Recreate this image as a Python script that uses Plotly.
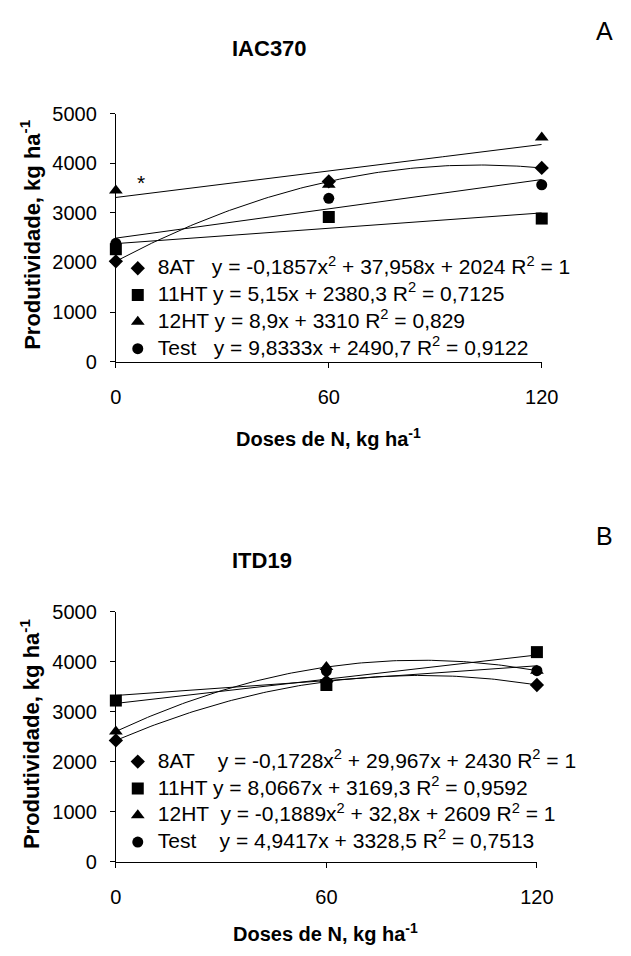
import numpy as np
import plotly.graph_objects as go

W, H = 631, 956

# Doses de N (kg/ha)
doses = [0, 60, 120]

# IAC370 yields (kg/ha)
iac_8at = [2024, 3633, 3905]
iac_11ht = [2267, 2916, 2885]
iac_12ht = [3450, 3564, 4518]
iac_test = [2385, 3292, 3565]

# ITD19 yields (kg/ha)
itd_8at = [2430, 3606, 3538]
itd_11ht = [3227, 3538, 4195]
itd_12ht = [2609, 3897, 3825]
itd_test = [3230, 3822, 3823]

# Fitted trendline coefficients [a, b, c] for y = a*x^2 + b*x + c
iac_fit = {
    "8AT": [-0.1857, 37.958, 2024],
    "11HT": [0.0, 5.15, 2380.3],
    "12HT": [0.0, 8.9, 3310],
    "Test": [0.0, 9.8333, 2490.7],
}
itd_fit = {
    "8AT": [-0.1728, 29.967, 2430],
    "11HT": [0.0, 8.0667, 3169.3],
    "12HT": [-0.1889, 32.8, 2609],
    "Test": [0.0, 4.9417, 3328.5],
}

iac_labels = [
    "8AT   y = -0,1857x<sup>2</sup> + 37,958x + 2024 R<sup>2</sup> = 1",
    "11HT y = 5,15x + 2380,3 R<sup>2</sup> = 0,7125",
    "12HT y = 8,9x + 3310 R<sup>2</sup> = 0,829",
    "Test   y = 9,8333x + 2490,7 R<sup>2</sup> = 0,9122",
]
itd_labels = [
    "8AT    y = -0,1728x<sup>2</sup> + 29,967x + 2430 R<sup>2</sup> = 1",
    "11HT y = 8,0667x + 3169,3 R<sup>2</sup> = 0,9592",
    "12HT  y = -0,1889x<sup>2</sup> + 32,8x + 2609 R<sup>2</sup> = 1",
    "Test    y = 4,9417x + 3328,5 R<sup>2</sup> = 0,7513",
]

series_names = ["8AT", "11HT", "12HT", "Test"]
symbols = ["diamond", "square", "triangle-up", "circle"]
sizes = [11, 12, 12, 11]

FONT = "Liberation Sans, Arial, sans-serif"
LEG_TEXT = 21  # glyph size of legend entries


def px(x):
    return x / W


def py(y):
    return 1 - y / H


fig = go.Figure()
xs = np.arange(0, 121, 1.0)


def add_panel(values, fits, labels, xa, ya, legend_id):
    for name in series_names:
        a, b, c = fits[name]
        fig.add_trace(go.Scatter(
            x=xs, y=a * xs ** 2 + b * xs + c, mode="lines",
            line=dict(color="black", width=1), showlegend=False,
            xaxis=xa, yaxis=ya, hoverinfo="skip", cliponaxis=False,
        ))
    for name, vals, sym, sz, lab in zip(series_names, values, symbols, sizes, labels):
        fig.add_trace(go.Scatter(
            x=doses, y=vals, mode="markers",
            name=f'<span style="font-size:{LEG_TEXT}px">{lab}</span>',
            marker=dict(symbol=sym, size=sz, color="black", line=dict(width=0)),
            xaxis=xa, yaxis=ya, legend=legend_id, legendgroup=legend_id + name,
            cliponaxis=False,
        ))


add_panel([iac_8at, iac_11ht, iac_12ht, iac_test], iac_fit, iac_labels, "x", "y", "legend")
add_panel([itd_8at, itd_11ht, itd_12ht, itd_test], itd_fit, itd_labels, "x2", "y2", "legend2")

xaxis_style = dict(
    range=[0, 120], tickvals=doses, ticks="outside", ticklen=5, tickcolor="black",
    showline=True, linecolor="black", linewidth=1, showgrid=False, zeroline=False,
    tickfont=dict(family=FONT, size=20, color="black"), ticklabelstandoff=12,
)
yaxis_style = dict(
    range=[0, 5000], tickvals=[0, 1000, 2000, 3000, 4000, 5000], ticks="outside",
    ticklen=5, tickcolor="black", showline=True, linecolor="black", linewidth=1,
    showgrid=False, zeroline=False,
    tickfont=dict(family=FONT, size=20, color="black"), ticklabelstandoff=9,
)

legend_style = dict(
    bgcolor="rgba(0,0,0,0)", borderwidth=0, xanchor="left", yanchor="top",
    font=dict(family=FONT, size=16, color="black"), traceorder="grouped",
    tracegroupgap=3, itemclick=False, itemdoubleclick=False,
)

fig.update_layout(
    width=W, height=H, margin=dict(l=0, r=0, t=0, b=0),
    paper_bgcolor="white", plot_bgcolor="white", showlegend=True,
    xaxis=dict(domain=[px(114), px(556)], anchor="y", **xaxis_style),
    yaxis=dict(domain=[py(359), py(105)], anchor="x", **yaxis_style),
    xaxis2=dict(domain=[px(114), px(551)], anchor="y2", **xaxis_style),
    yaxis2=dict(domain=[py(871), py(615)], anchor="x2", **yaxis_style),
    legend=dict(x=px(116), y=py(246), **legend_style),
    legend2=dict(x=px(116), y=py(751), **legend_style),
)

ann = []


def text(x, y, s, size, bold=False, angle=0):
    if bold:
        s = "<b>" + s + "</b>"
    ann.append(dict(x=px(x), y=py(y), xref="paper", yref="paper", text=s,
                    showarrow=False, textangle=angle, xanchor="center", yanchor="middle",
                    font=dict(family=FONT, size=size, color="black")))


# Panel A
text(273, 38, "IAC370", 22, True)
text(621, 20, "A", 25)
text(335, 437, "Doses de N, kg ha<sup>-1</sup>", 20, True)
text(25, 229, "Produtividade, kg ha<sup>-1</sup>", 22, True, -90)
# Panel B
text(266, 562, "ITD19", 22, True)
text(621, 537, "B", 25)
text(332, 943, "Doses de N, kg ha<sup>-1</sup>", 20, True)
text(25, 740, "Produtividade, kg ha<sup>-1</sup>", 22, True, -90)

# Significance marks
for xv, yv in [(7, 3620), (118.6, 5040)]:
    ann.append(dict(x=xv, y=yv, xref="x", yref="y", text="*", showarrow=False,
                    font=dict(family=FONT, size=21, color="black")))

fig.update_layout(annotations=ann)
fig.write_html("out.html")
